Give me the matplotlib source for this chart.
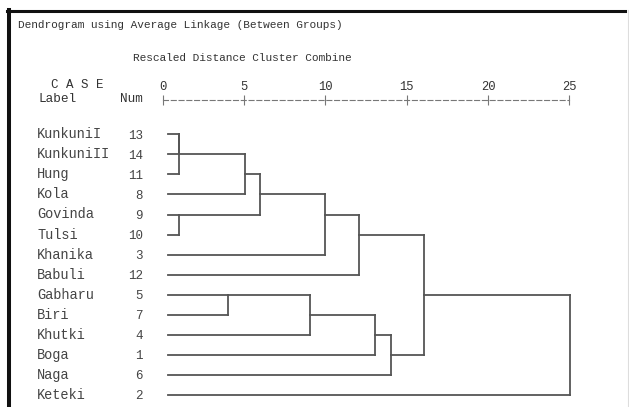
import matplotlib
matplotlib.use("Agg")
import matplotlib.pyplot as plt
from matplotlib.lines import Line2D
from matplotlib import transforms

# ---- data ----
leaf_names = ["KunkuniI", "KunkuniII", "Hung", "Kola", "Govinda", "Tulsi", "Khanika",
              "Babuli", "Gabharu", "Biri", "Khutki", "Boga", "Naga", "Keteki"]
leaf_nums = [13, 14, 11, 8, 9, 10, 3, 12, 5, 7, 4, 1, 6, 2]
# merges: (node_a, node_b, rescaled distance); leaves are 0..13 in display order,
# merged clusters get ids 14, 15, ...
merge_a = [0, 14, 15, 4, 16, 18, 19, 8, 21, 22, 23, 20, 25]
merge_b = [1, 2, 3, 5, 17, 6, 7, 9, 10, 11, 12, 24, 13]
merge_d = [1.0, 1.0, 5.05, 1.0, 6.0, 10.0, 12.05, 4.0, 9.05, 13.05, 14.05, 16.05, 25.05]
x_ticks = [0, 5, 10, 15, 20, 25]

title = "Dendrogram using Average Linkage (Between Groups)"
subtitle = "Rescaled Distance Cluster Combine"

W, H = 629, 407
FONT = "Liberation Mono"
LINE_C = "#555555"
TEXT_C = "#333333"

fig = plt.figure(figsize=(W / 100, H / 100), dpi=100)
fig.patch.set_facecolor("white")

# axes: x=0 at px 162.7, x=25 at px 569.3 ; row0 at y px 134.3, row spacing 20.05
x0, x1 = 162.7, 569.3
top_px, bot_px = 100.0, 405.0
row0_px, row_h = 134.3, 20.05
y_top = -(row0_px - top_px) / row_h
y_bot = 13 + (bot_px - (row0_px + 13 * row_h)) / row_h
ax = fig.add_axes([x0 / W, (H - bot_px) / H, (x1 - x0) / W, (bot_px - top_px) / H])
ax.set_xlim(0, 25)
ax.set_ylim(y_bot, y_top)
ax.set_facecolor("none")

for s in ["left", "right", "bottom"]:
    ax.spines[s].set_visible(False)
ax.spines["top"].set_color("#777777")
ax.spines["top"].set_linewidth(0.8)
ax.spines["top"].set_linestyle((0, (4.5, 2.5)))

ax.xaxis.set_ticks_position("top")
ax.set_xticks(x_ticks)
ax.set_xticklabels([str(t) for t in x_ticks], fontfamily=FONT, fontsize=8.7, color=TEXT_C)
ax.tick_params(axis="x", direction="inout", length=7, width=0.8, color="#777777", pad=1.5)

rows = list(range(len(leaf_names)))
ax.set_yticks(rows)
ax.set_yticklabels([str(n) for n in leaf_nums], fontfamily=FONT, fontsize=9, color="#444444")
ax.tick_params(axis="y", length=0, pad=14.2)

name_tr = transforms.blended_transform_factory(fig.transFigure, ax.transData)
for r, name in zip(rows, leaf_names):
    ax.text(37 / W, r, name, transform=name_tr, ha="left", va="center",
            fontfamily=FONT, fontsize=9.8, color="#444444")

# ---- dendrogram ----
n = len(leaf_names)
node_row = {i: i for i in range(n)}
node_x = {i: 0.3 for i in range(n)}
lk = dict(color=LINE_C, lw=1.3, solid_capstyle="projecting", clip_on=False)
for k, (a, b, d) in enumerate(zip(merge_a, merge_b, merge_d)):
    ra, rb = node_row[a], node_row[b]
    for c in (a, b):
        ax.plot([node_x[c], d], [node_row[c], node_row[c]], **lk)
    ax.plot([d, d], [ra, rb], **lk)
    nid = n + k
    node_row[nid] = (min(ra, rb) + max(ra, rb)) // 2
    node_x[nid] = d

# ---- header texts ----
def ftext(x, y, s, size, **kw):
    fig.text(x / W, 1 - y / H, s, fontfamily=FONT, fontsize=size, color=TEXT_C,
             va="center", **kw)

ftext(18, 25, title, 8)
ftext(133, 58, subtitle, 8)
ftext(51, 85, "C A S E", 9)
ftext(38, 99, "Label", 9.2)
ftext(143, 99, "Num", 9.2, ha="right")

# ---- frame ----
fig.add_artist(Line2D([9 / W, 9 / W], [1 - 10 / H, 0], color="#111111", lw=2.9,
                      transform=fig.transFigure))
fig.add_artist(Line2D([7 / W, 625 / W], [1 - 11 / H, 1 - 11 / H], color="#111111", lw=2.2,
                      transform=fig.transFigure))
fig.add_artist(Line2D([627.5 / W, 627.5 / W], [1 - 10 / H, 0], color="#dddddd", lw=0.8,
                      transform=fig.transFigure))

fig.savefig("out.png", dpi=100, facecolor="white")
